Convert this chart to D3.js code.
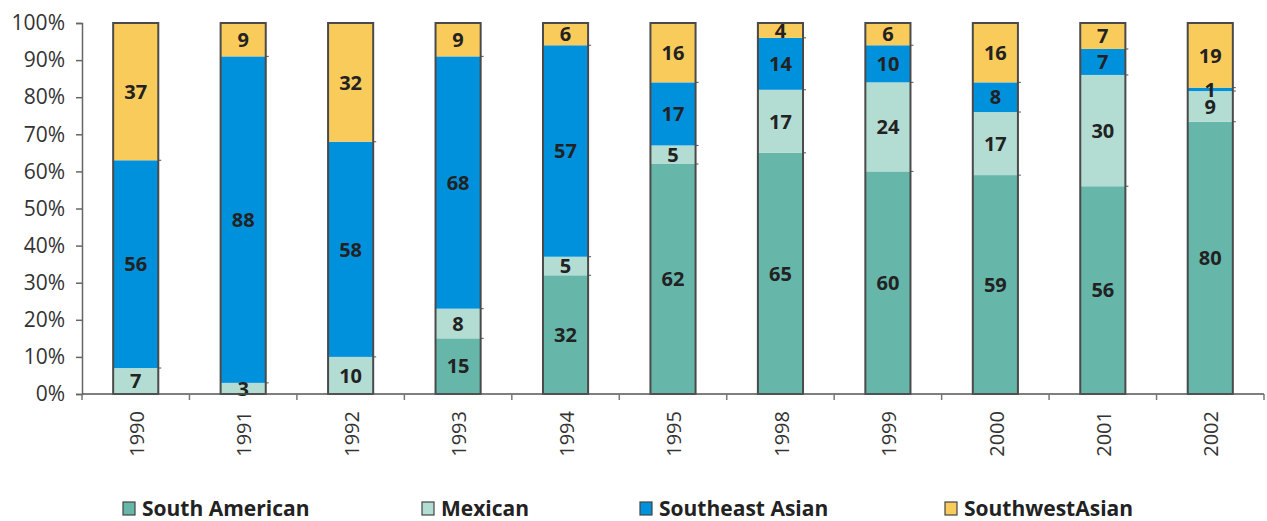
<!DOCTYPE html>
<html><head><meta charset="utf-8">
<script src="https://cdn.jsdelivr.net/npm/d3@7"></script>
<style>body{margin:0;background:#fff}svg{display:block}</style>
</head><body>
<svg id="c" width="1267" height="521"></svg>
<script>
const years = ["1990","1991","1992","1993","1994","1995","1998","1999","2000","2001","2002"];
const seriesNames = ["South American","Mexican","Southeast Asian","SouthwestAsian"];
const southAmerican = [0,0,0,15,32,62,65,60,59,56,80];
const mexican       = [7,3,10,8,5,5,17,24,17,30,9];
const southeastAsian= [56,88,58,68,57,17,14,10,8,7,1];
const southwestAsian= [37,9,32,9,6,16,4,6,16,7,19];
const yTicks = [0,0.1,0.2,0.3,0.4,0.5,0.6,0.7,0.8,0.9,1];
const colors = ["#66b6aa","#b3ddd3","#0091dd","#f9cb5b"];

const svg = d3.select("#c");
const font = "'Open Sans', sans-serif";
const x0 = 82, x1 = 1264, yTop = 23, yBot = 394;

const x = d3.scaleBand().domain(years).range([x0, x1]).paddingInner(0.58).paddingOuter(0.29);
const y = d3.scaleLinear().domain([0,1]).range([yBot, yTop]);

const rows = years.map((yr,i)=>({year:yr, "South American":southAmerican[i], "Mexican":mexican[i], "Southeast Asian":southeastAsian[i], "SouthwestAsian":southwestAsian[i]}));
const stack = d3.stack().keys(seriesNames).offset(d3.stackOffsetExpand);
const layers = stack(rows);

const g = svg.append("g");
layers.forEach((layer, si) => {
  g.selectAll(null).data(layer).enter().append("rect")
    .attr("x", d => x(d.data.year))
    .attr("width", x.bandwidth())
    .attr("y", d => y(d[1]))
    .attr("height", d => Math.max(0, y(d[0]) - y(d[1])))
    .attr("fill", colors[si]);
});
// segment boundary ticks at right edge
layers.forEach((layer, si) => {
  if (si === 0) return;
  g.selectAll(null).data(layer.filter(d => d[0] > 0.0001 && d[0] < 0.9999)).enter().append("line")
    .attr("x1", d => x(d.data.year) + x.bandwidth())
    .attr("x2", d => x(d.data.year) + x.bandwidth() + 3)
    .attr("y1", d => y(d[0])).attr("y2", d => y(d[0]))
    .attr("stroke", "#555").attr("stroke-width", 1);
});
// bar outlines
g.selectAll(null).data(years).enter().append("rect")
  .attr("x", d => x(d)).attr("width", x.bandwidth())
  .attr("y", y(1)).attr("height", y(0) - y(1))
  .attr("fill", "none").attr("stroke", "#4a4a4a").attr("stroke-width", 2);

// labels
layers.forEach((layer, si) => {
  g.selectAll(null).data(layer.filter(d => d.data[seriesNames[si]] > 0)).enter().append("text")
    .attr("x", d => x(d.data.year) + x.bandwidth()/2)
    .attr("y", d => (y(d[0]) + y(d[1]))/2)
    .attr("dy", "0.36em")
    .attr("text-anchor", "middle")
    .attr("font-family", font).attr("font-weight", "bold").attr("font-size", 20)
    .attr("fill", "#222")
    .text(d => d.data[seriesNames[si]]);
});

// y axis
const yAxis = svg.append("g").attr("transform", `translate(${x0},0)`)
  .call(d3.axisLeft(y).tickValues(yTicks).tickFormat(d3.format(".0%")).tickSize(6).tickPadding(11));
yAxis.select(".domain").attr("stroke", "#666").attr("stroke-width", 1.5);
yAxis.selectAll(".tick line").attr("stroke", "#666").attr("stroke-width", 1.5);
yAxis.selectAll("text").attr("font-family", font).attr("font-size", 21).attr("fill", "#333");

// x axis
const xa = svg.append("g");
xa.append("line").attr("x1", x0).attr("x2", x1).attr("y1", yBot).attr("y2", yBot).attr("stroke", "#555").attr("stroke-width", 1.5);
const step = x.step();
xa.selectAll(null).data(d3.range(years.length + 1)).enter().append("line")
  .attr("x1", i => x0 + i*step).attr("x2", i => x0 + i*step)
  .attr("y1", yBot).attr("y2", yBot + 6).attr("stroke", "#777").attr("stroke-width", 1.5);
xa.selectAll(null).data(years).enter().append("text")
  .attr("transform", d => `translate(${x(d) + x.bandwidth()/2 + 1},${yBot + 17}) rotate(-90)`)
  .attr("text-anchor", "end").attr("dy", "0.36em")
  .attr("font-family", font).attr("font-size", 20).attr("fill", "#333")
  .text(d => d);

// legend
const legendX = [123, 422, 640, 945];
const lg = svg.append("g");
seriesNames.forEach((n, i) => {
  lg.append("rect").attr("x", legendX[i]).attr("y", 502).attr("width", 12).attr("height", 13)
    .attr("fill", colors[i]).attr("stroke", "#444").attr("stroke-width", 1.2);
  lg.append("text").attr("x", legendX[i] + 19).attr("y", 508).attr("dy", "0.36em")
    .attr("font-family", font).attr("font-weight", "bold").attr("font-size", 21).attr("fill", "#222")
    .text(n);
});
</script>
</body></html>
